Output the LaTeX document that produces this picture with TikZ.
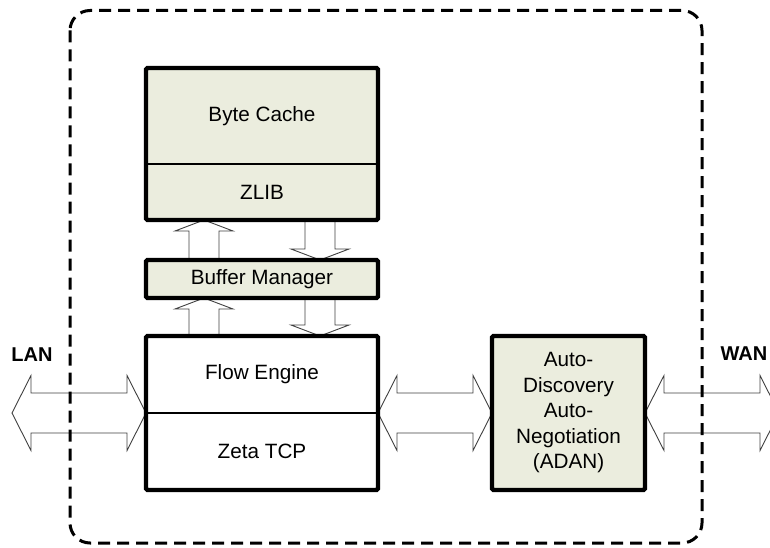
\documentclass[tikz,border=0pt]{standalone}
\usepackage{fontspec}
\setmainfont{Liberation Sans}
\usetikzlibrary{positioning,backgrounds,calc}

\definecolor{panelfill}{RGB}{235,237,222}
\definecolor{pipeline}{RGB}{64,64,64}

\tikzset{
  panel/.style={draw, line width=4.3pt, fill=panelfill, inner sep=0pt, outer sep=0pt, rounded corners=1.5pt},
  plainpanel/.style={panel, fill=white},
  caption/.style={font=\fontsize{20.7}{25.5}\selectfont, align=center, inner sep=0pt},
  port/.style={font=\fontsize{20}{24}\selectfont\bfseries, inner sep=0pt},
  hollow/.style={draw=pipeline, line width=0.9pt, fill=white},
  frame/.style={draw, line width=3pt, dash pattern=on 12pt off 7pt, rounded corners=20pt},
}

% horizontal two-headed block arrow, tip to tip
\newcommand{\hpipe}[2]{%
  \draw[hollow] let \p1=(#1), \p2=(#2) in
    (\x1,\y1) -- ({\x1+19pt},{\y1+37.5pt}) -- ({\x1+19pt},{\y1+20pt}) -- ({\x2-19pt},{\y1+20pt})
    -- ({\x2-19pt},{\y1+37.5pt}) -- (\x2,\y1) -- ({\x2-19pt},{\y1-37.5pt}) -- ({\x2-19pt},{\y1-20pt})
    -- ({\x1+19pt},{\y1-20pt}) -- ({\x1+19pt},{\y1-37.5pt}) -- cycle;}
% vertical block arrow, tail #1, tip #2
\newcommand{\vpipe}[2]{%
  \draw[hollow] let \p1=(#1), \p2=(#2), \n1={11*sign(\y2-\y1)} in
    (\x2,\y2) -- ({\x2+29pt},{\y2-(\n1)*1pt}) -- ({\x2+15pt},{\y2-(\n1)*1pt}) -- ({\x2+15pt},\y1)
    -- ({\x2-15pt},\y1) -- ({\x2-15pt},{\y2-(\n1)*1pt}) -- ({\x2-29pt},{\y2-(\n1)*1pt}) -- cycle;}

\begin{document}
\begin{tikzpicture}[x=1pt, y=-1pt]
    \useasboundingbox (0,0) rectangle (770,548);

    % appliance boundary
    \draw[frame] (70,10.5) rectangle (702,543);

    % modules
    \node[panel, minimum width=232pt, minimum height=152pt] (cache) at (262,144) {};
    \node[panel, minimum width=232pt, minimum height=38pt, below=40pt of cache] (buffer) {};
    \node[plainpanel, minimum width=232pt, minimum height=154pt, below=38pt of buffer] (flow) {};
    \node[panel, minimum width=153pt, minimum height=154pt, right=114pt of flow] (adan) {};

    \node[caption] (bytecache) at ([yshift=-48pt]cache.north) {Byte Cache};
    \node[caption] (zlib) at ([yshift=28pt]cache.south) {ZLIB};
    \draw[line width=1.6pt] ([yshift=56pt]cache.south west) -- ([yshift=56pt]cache.south east);
    \node[caption] (buffertext) at (buffer) {Buffer Manager};
    \node[caption] (engine) at ([yshift=-38pt]flow.north) {Flow Engine};
    \node[caption] (zeta) at ([yshift=39pt]flow.south) {Zeta TCP};
    \draw[line width=1.6pt] (flow.west) -- (flow.east);
    \node[caption] (adantext) at (adan) {Auto-\\Discovery\\Auto-\\Negotiation\\(ADAN)};

    % sides
    \node[port] (lan) at (32,355) {LAN};
    \node[port] (wan) at (744,354) {WAN};
    \coordinate (lanend) at ([xshift=-134pt]flow.west);
    \coordinate (wanend) at ([xshift=134pt]adan.east);

    \begin{pgfonlayer}{background}
        \hpipe{lanend}{flow.west}
        \hpipe{flow.east}{adan.west}
        \hpipe{adan.east}{wanend}
        \vpipe{[xshift=-58pt]buffer.north}{[xshift=-58pt]cache.south}
        \vpipe{[xshift=58pt]cache.south}{[xshift=58pt]buffer.north}
        \vpipe{[xshift=-58pt]flow.north}{[xshift=-58pt]buffer.south}
        \vpipe{[xshift=58pt]buffer.south}{[xshift=58pt]flow.north}
    \end{pgfonlayer}
\end{tikzpicture}
\end{document}
